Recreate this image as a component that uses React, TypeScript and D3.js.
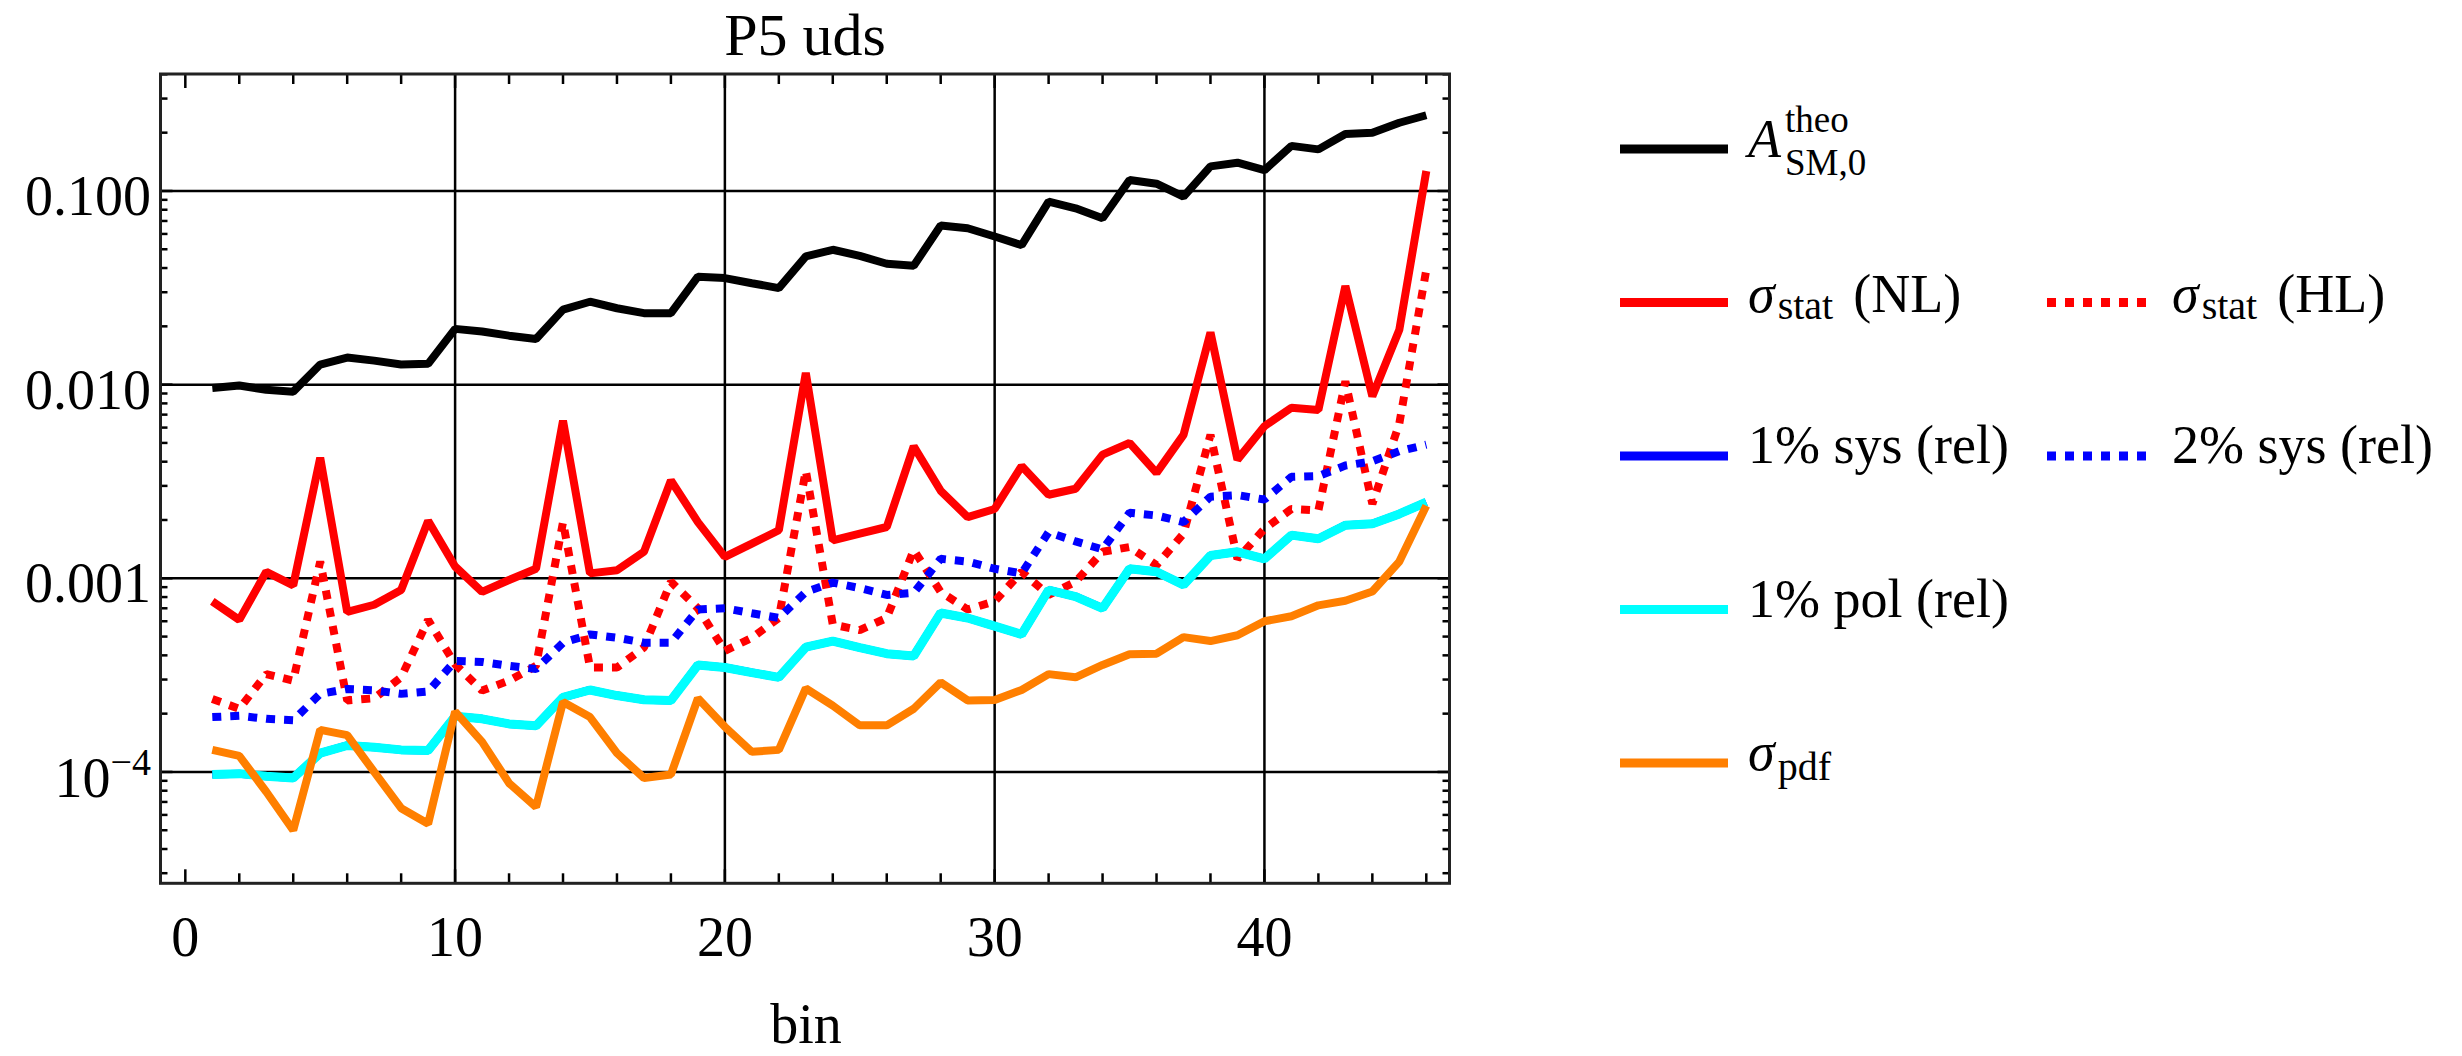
import * as d3 from 'd3';

// bin numbers on the x axis
const bins = [
  1, 2, 3, 4, 5, 6, 7, 8, 9, 10, 11, 12, 13, 14, 15, 16, 17, 18, 19, 20, 21, 22, 23,
  24, 25, 26, 27, 28, 29, 30, 31, 32, 33, 34, 35, 36, 37, 38, 39, 40, 41, 42, 43, 44, 45, 46,
];

// A^theo_SM,0
const aTheo = [
  0.0096, 0.0099, 0.0094, 0.0092, 0.0127, 0.0138, 0.0133, 0.0127, 0.0128, 0.0194,
  0.0188, 0.0179, 0.0172, 0.0244, 0.0268, 0.0248, 0.0234, 0.0234, 0.0361, 0.0355,
  0.0334, 0.0315, 0.0459, 0.0497, 0.0462, 0.0421, 0.0411, 0.0663, 0.0642, 0.0582,
  0.0525, 0.0881, 0.0814, 0.0723, 0.114, 0.109, 0.0935, 0.134, 0.14, 0.128,
  0.171, 0.164, 0.197, 0.2, 0.225, 0.246,
];

// sigma_stat (NL)
const statNL = [
  7.6e-4, 6.1e-4, 1.08e-3, 9.2e-4, 4.19e-3, 6.7e-4, 7.3e-4, 8.7e-4, 1.98e-3, 1.15e-3,
  8.5e-4, 9.8e-4, 1.12e-3, 6.52e-3, 1.06e-3, 1.1e-3, 1.37e-3, 3.2e-3, 1.95e-3, 1.29e-3,
  1.51e-3, 1.77e-3, 1.15e-2, 1.57e-3, 1.7e-3, 1.84e-3, 4.8e-3, 2.83e-3, 2.07e-3, 2.28e-3,
  3.8e-3, 2.7e-3, 2.9e-3, 4.35e-3, 5.0e-3, 3.5e-3, 5.5e-3, 1.86e-2, 4.1e-3, 6.1e-3,
  7.6e-3, 7.4e-3, 3.23e-2, 8.7e-3, 1.92e-2, 0.1268,
];

// sigma_stat (HL)
const statHL = [
  2.38e-4, 2.12e-4, 3.2e-4, 2.96e-4, 1.22e-3, 2.34e-4, 2.4e-4, 3.08e-4, 6.1e-4, 3.6e-4,
  2.63e-4, 2.96e-4, 3.53e-4, 1.95e-3, 3.46e-4, 3.46e-4, 4.39e-4, 9.6e-4, 7.0e-4, 4.22e-4,
  4.93e-4, 6.24e-4, 3.6e-3, 5.77e-4, 5.4e-4, 6.24e-4, 1.4e-3, 8.5e-4, 6.9e-4, 7.6e-4,
  1.08e-3, 8.2e-4, 9.6e-4, 1.37e-3, 1.45e-3, 1.17e-3, 1.7e-3, 5.5e-3, 1.26e-3, 1.8e-3,
  2.28e-3, 2.24e-3, 1.04e-2, 2.42e-3, 6.3e-3, 3.92e-2,
];

// 1% pol (rel)
const pol1 = [
  9.7e-5, 9.8e-5, 9.5e-5, 9.3e-5, 1.25e-4, 1.37e-4, 1.34e-4, 1.3e-4, 1.29e-4, 1.94e-4,
  1.88e-4, 1.77e-4, 1.73e-4, 2.43e-4, 2.65e-4, 2.48e-4, 2.36e-4, 2.34e-4, 3.57e-4, 3.46e-4,
  3.26e-4, 3.08e-4, 4.41e-4, 4.74e-4, 4.38e-4, 4.08e-4, 3.97e-4, 6.62e-4, 6.24e-4, 5.66e-4,
  5.13e-4, 8.7e-4, 8.05e-4, 7.0e-4, 1.12e-3, 1.08e-3, 9.25e-4, 1.31e-3, 1.37e-3, 1.26e-3,
  1.67e-3, 1.6e-3, 1.88e-3, 1.91e-3, 2.15e-3, 2.47e-3,
];

// 1% sys (rel): lies exactly under the cyan curve in the picture
const sys1 = pol1;

// 2% sys (rel)
const sys2 = [
  1.92e-4, 1.95e-4, 1.88e-4, 1.85e-4, 2.53e-4, 2.68e-4, 2.64e-4, 2.53e-4, 2.6e-4, 3.74e-4,
  3.7e-4, 3.53e-4, 3.4e-4, 4.65e-4, 5.13e-4, 4.93e-4, 4.65e-4, 4.65e-4, 6.9e-4, 7.0e-4,
  6.6e-4, 6.24e-4, 8.5e-4, 9.5e-4, 8.9e-4, 8.2e-4, 8.4e-4, 1.26e-3, 1.22e-3, 1.12e-3,
  1.06e-3, 1.73e-3, 1.55e-3, 1.41e-3, 2.18e-3, 2.11e-3, 1.95e-3, 2.64e-3, 2.69e-3, 2.55e-3,
  3.34e-3, 3.37e-3, 3.82e-3, 4.02e-3, 4.53e-3, 4.9e-3,
];

// sigma_pdf
const pdf = [
  1.3e-4, 1.21e-4, 7.9e-5, 5.0e-5, 1.65e-4, 1.55e-4, 1.0e-4, 6.5e-5, 5.4e-5, 2.05e-4,
  1.43e-4, 8.75e-5, 6.6e-5, 2.3e-4, 1.92e-4, 1.25e-4, 9.3e-5, 9.7e-5, 2.4e-4, 1.71e-4,
  1.27e-4, 1.3e-4, 2.7e-4, 2.2e-4, 1.74e-4, 1.74e-4, 2.12e-4, 2.9e-4, 2.34e-4, 2.35e-4,
  2.65e-4, 3.2e-4, 3.08e-4, 3.57e-4, 4.05e-4, 4.08e-4, 4.97e-4, 4.74e-4, 5.08e-4, 6.0e-4,
  6.37e-4, 7.25e-4, 7.65e-4, 8.55e-4, 1.22e-3, 2.37e-3,
];

const xTickLabels = [0, 10, 20, 30, 40];
const yTickValues = [1e-1, 1e-2, 1e-3];
const yTickLabels = ['0.100', '0.010', '0.001'];

const FONT = '"Liberation Serif", "DejaVu Serif", serif';

const series = [
  { key: 'theo', values: aTheo, color: '#000000', dash: null },
  { key: 'nl', values: statNL, color: '#ff0000', dash: null },
  { key: 'hl', values: statHL, color: '#ff0000', dash: '9 9' },
  { key: 'sys1', values: sys1, color: '#0000ff', dash: null },
  { key: 'sys2', values: sys2, color: '#0000ff', dash: '9 9' },
  { key: 'pol', values: pol1, color: '#00ffff', dash: null },
  { key: 'pdf', values: pdf, color: '#ff7f00', dash: null },
];

export default function App() {
  const W = 2462;
  const H = 1056;
  const left = 160.5, right = 1449.5, top = 74, bottom = 883.3;

  const x = d3.scaleLinear().domain([-0.92, 46.86]).range([left, right]);
  const y = d3.scaleLog()
    .domain([Math.pow(10, -4.575), Math.pow(10, -0.396)])
    .range([bottom, top]);

  const line = d3.line<number>()
    .x((_, i) => x(bins[i]))
    .y(d => y(d));

  // log ticks: 1..9 x 10^k inside the range
  const [y0, y1] = y.domain();
  const yTicks: { v: number; major: boolean }[] = [];
  for (let e = -5; e <= 0; e++) {
    for (let m = 1; m <= 9; m++) {
      const v = m * Math.pow(10, e);
      if (v > y0 && v < y1) yTicks.push({ v, major: m === 1 });
    }
  }
  const xTicks = d3.range(0, 47, 2);

  // legend layout
  const legX = 1620, legX2 = 2047, legLen = 108, legLen2 = 103;
  const rowY = [149, 302.5, 456, 609.5, 763];

  return (
    <svg
      width={W}
      height={H}
      style={{ position: 'absolute', left: 0, top: 0, background: '#fff' }}
      fontFamily={FONT}
    >
      <defs>
        <clipPath id="plot-clip">
          <rect x={left} y={top} width={right - left} height={bottom - top} />
        </clipPath>
      </defs>

      {/* title */}
      <text x={805} y={55} fontSize={60} textAnchor="middle">P5 uds</text>

      {/* grid lines */}
      <g stroke="#000" strokeWidth={2.5}>
        {xTickLabels.filter(v => v > 0).map(v => (
          <line key={'gx' + v} x1={x(v)} x2={x(v)} y1={top} y2={bottom} />
        ))}
        {[1e-4, 1e-3, 1e-2, 1e-1].map(v => (
          <line key={'gy' + v} x1={left} x2={right} y1={y(v)} y2={y(v)} />
        ))}
      </g>

      {/* ticks */}
      <g stroke="#000" strokeWidth={2.5}>
        {xTicks.map(v => {
          const len = v % 10 === 0 ? 14 : 10;
          return (
            <g key={'tx' + v}>
              <line x1={x(v)} x2={x(v)} y1={bottom} y2={bottom - len} />
              <line x1={x(v)} x2={x(v)} y1={top} y2={top + len} />
            </g>
          );
        })}
        {yTicks.map(t => {
          const len = t.major ? 12 : 7;
          return (
            <g key={'ty' + t.v}>
              <line x1={left} x2={left + len} y1={y(t.v)} y2={y(t.v)} />
              <line x1={right} x2={right - len} y1={y(t.v)} y2={y(t.v)} />
            </g>
          );
        })}
      </g>

      {/* curves */}
      <g clipPath="url(#plot-clip)" fill="none">
        {series.map(s => (
          <path
            key={s.key}
            d={line(s.values) || ''}
            stroke={s.color}
            strokeWidth={s.key === 'pol' ? 9 : 8}
            strokeDasharray={s.dash || undefined}
            strokeLinejoin="bevel"
          />
        ))}
      </g>

      {/* frame */}
      <rect x={left} y={top} width={right - left} height={bottom - top}
        fill="none" stroke="#222" strokeWidth={3} />

      {/* x tick labels */}
      <g fontSize={56} textAnchor="middle">
        {xTickLabels.map(v => (
          <text key={'lx' + v} x={x(v)} y={956}>{v}</text>
        ))}
      </g>

      {/* y tick labels */}
      <g fontSize={56} textAnchor="end">
        {yTickValues.map((v, i) => (
          <text key={'ly' + v} x={151} y={y(v) + 24}>{yTickLabels[i]}</text>
        ))}
        <text x={151} y={y(1e-4) + 25}>
          10<tspan fontSize={38} dy={-22}>−4</tspan>
        </text>
      </g>

      {/* axis label */}
      <text x={806} y={1043} fontSize={56} textAnchor="middle">bin</text>

      {/* legend */}
      <g strokeWidth={9} fill="none">
        <line x1={legX} x2={legX + legLen} y1={rowY[0]} y2={rowY[0]} stroke="#000" />
        <line x1={legX} x2={legX + legLen} y1={rowY[1]} y2={rowY[1]} stroke="#ff0000" />
        <line x1={legX2} x2={legX2 + legLen2} y1={rowY[1]} y2={rowY[1]} stroke="#ff0000" strokeDasharray="9 9" />
        <line x1={legX} x2={legX + legLen} y1={rowY[2]} y2={rowY[2]} stroke="#0000ff" />
        <line x1={legX2} x2={legX2 + legLen2} y1={rowY[2]} y2={rowY[2]} stroke="#0000ff" strokeDasharray="9 9" />
        <line x1={legX} x2={legX + legLen} y1={rowY[3]} y2={rowY[3]} stroke="#00ffff" />
        <line x1={legX} x2={legX + legLen} y1={rowY[4]} y2={rowY[4]} stroke="#ff7f00" />
      </g>
      <g fontSize={54}>
        <text x={1748} y={157} fontStyle="italic">A</text>
        <text x={1785} y={132} fontSize={37}>theo</text>
        <text x={1785} y={175} fontSize={37}>SM,0</text>

        <text x={1748} y={rowY[1] + 9}>
          <tspan fontStyle="italic">σ</tspan>
          <tspan fontSize={40} dx={3} dy={7}>stat</tspan>
          <tspan dx={20} dy={-7}>(NL)</tspan>
        </text>
        <text x={2172} y={rowY[1] + 9}>
          <tspan fontStyle="italic">σ</tspan>
          <tspan fontSize={40} dx={3} dy={7}>stat</tspan>
          <tspan dx={20} dy={-7}>(HL)</tspan>
        </text>

        <text x={1748} y={rowY[2] + 7}>1% sys (rel)</text>
        <text x={2172} y={rowY[2] + 7}>2% sys (rel)</text>
        <text x={1748} y={rowY[3] + 7}>1% pol (rel)</text>

        <text x={1748} y={rowY[4] + 7}>
          <tspan fontStyle="italic">σ</tspan>
          <tspan fontSize={40} dx={3} dy={10}>pdf</tspan>
        </text>
      </g>
    </svg>
  );
}
